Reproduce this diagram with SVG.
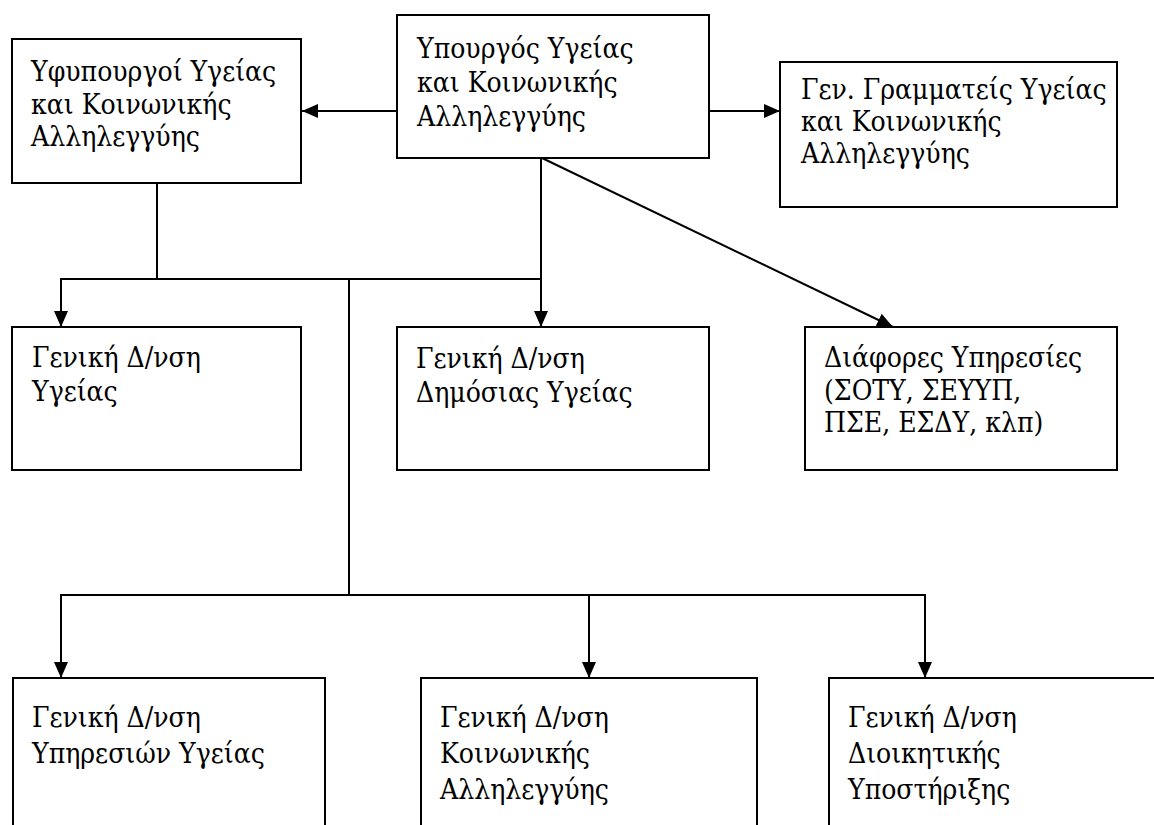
<svg xmlns="http://www.w3.org/2000/svg" width="1154" height="825" viewBox="0 0 1154 825">
<style>
.box{fill:#fff;stroke:#000;stroke-width:2}
.lbl{font-family:"DejaVu Serif Condensed","DejaVu Serif",serif;font-stretch:condensed;font-size:28px;fill:#000}
.con{fill:none;stroke:#000;stroke-width:2}
</style>
<defs>
<marker id="arr" markerUnits="userSpaceOnUse" markerWidth="16" markerHeight="14" refX="16" refY="7" orient="auto">
<path d="M0,0 L16,7 L0,14 z" fill="#000"/>
</marker>
</defs>
<rect width="1154" height="825" fill="#fff"/>
<g id="connectors">
<line class="con" x1="397" y1="111" x2="302" y2="111" marker-end="url(#arr)"/>
<line class="con" x1="709" y1="111" x2="780" y2="111" marker-end="url(#arr)"/>
<line class="con" x1="542" y1="158" x2="893" y2="327" marker-end="url(#arr)"/>
<line class="con" x1="541" y1="158" x2="541" y2="327" marker-end="url(#arr)"/>
<line class="con" x1="157" y1="183" x2="157" y2="279"/>
<polyline class="con" points="541,279 61,279 61,327" marker-end="url(#arr)"/>
<line class="con" x1="349" y1="279" x2="349" y2="595"/>
<polyline class="con" points="61,678 61,595 925,595 925,678"/>
<line class="con" x1="61" y1="596" x2="61" y2="678" marker-end="url(#arr)"/>
<line class="con" x1="589" y1="595" x2="589" y2="678" marker-end="url(#arr)"/>
<line class="con" x1="925" y1="596" x2="925" y2="678" marker-end="url(#arr)"/>
</g>
<g id="n-yfypourgoi">
<rect class="box" x="12" y="39" width="289" height="144"/>
<text class="lbl" x="31" y="81">Υφυπουργοί Υγείας</text>
<text class="lbl" x="31" y="114">και Κοινωνικής</text>
<text class="lbl" x="31" y="146">Αλληλεγγύης</text>
</g>
<g id="n-ypourgos">
<rect class="box" x="397" y="15" width="312" height="143"/>
<text class="lbl" x="417" y="58">Υπουργός Υγείας</text>
<text class="lbl" x="417" y="92">και Κοινωνικής</text>
<text class="lbl" x="417" y="126">Αλληλεγγύης</text>
</g>
<g id="n-gengram">
<rect class="box" x="780" y="62" width="337" height="145"/>
<text class="lbl" x="801" y="99">Γεν. Γραμματείς Υγείας</text>
<text class="lbl" x="801" y="131">και Κοινωνικής</text>
<text class="lbl" x="801" y="163">Αλληλεγγύης</text>
</g>
<g id="n-gd-ygeias">
<rect class="box" x="12" y="327" width="289" height="143"/>
<text class="lbl" x="32" y="367">Γενική Δ/νση</text>
<text class="lbl" x="32" y="401">Υγείας</text>
</g>
<g id="n-gd-dimosias">
<rect class="box" x="397" y="327" width="312" height="143"/>
<text class="lbl" x="416" y="368">Γενική Δ/νση</text>
<text class="lbl" x="416" y="402">Δημόσιας Υγείας</text>
</g>
<g id="n-diafores">
<rect class="box" x="805" y="327" width="312" height="143"/>
<text class="lbl" x="824" y="367">Διάφορες Υπηρεσίες</text>
<text class="lbl" x="824" y="400">(ΣΟΤΥ, ΣΕΥΥΠ,</text>
<text class="lbl" x="824" y="432">ΠΣΕ, ΕΣΔΥ, κλπ)</text>
</g>
<g id="n-gd-ypiresion">
<rect class="box" x="13" y="678" width="312" height="160"/>
<text class="lbl" x="32" y="727">Γενική Δ/νση</text>
<text class="lbl" x="32" y="763">Υπηρεσιών Υγείας</text>
</g>
<g id="n-gd-koinonikis">
<rect class="box" x="421" y="678" width="336" height="160"/>
<text class="lbl" x="440" y="727">Γενική Δ/νση</text>
<text class="lbl" x="440" y="763">Κοινωνικής</text>
<text class="lbl" x="440" y="799">Αλληλεγγύης</text>
</g>
<g id="n-gd-dioikitikis">
<rect class="box" x="829" y="678" width="340" height="160"/>
<text class="lbl" x="848" y="727">Γενική Δ/νση</text>
<text class="lbl" x="848" y="763">Διοικητικής</text>
<text class="lbl" x="848" y="799">Υποστήριξης</text>
</g>
</svg>
